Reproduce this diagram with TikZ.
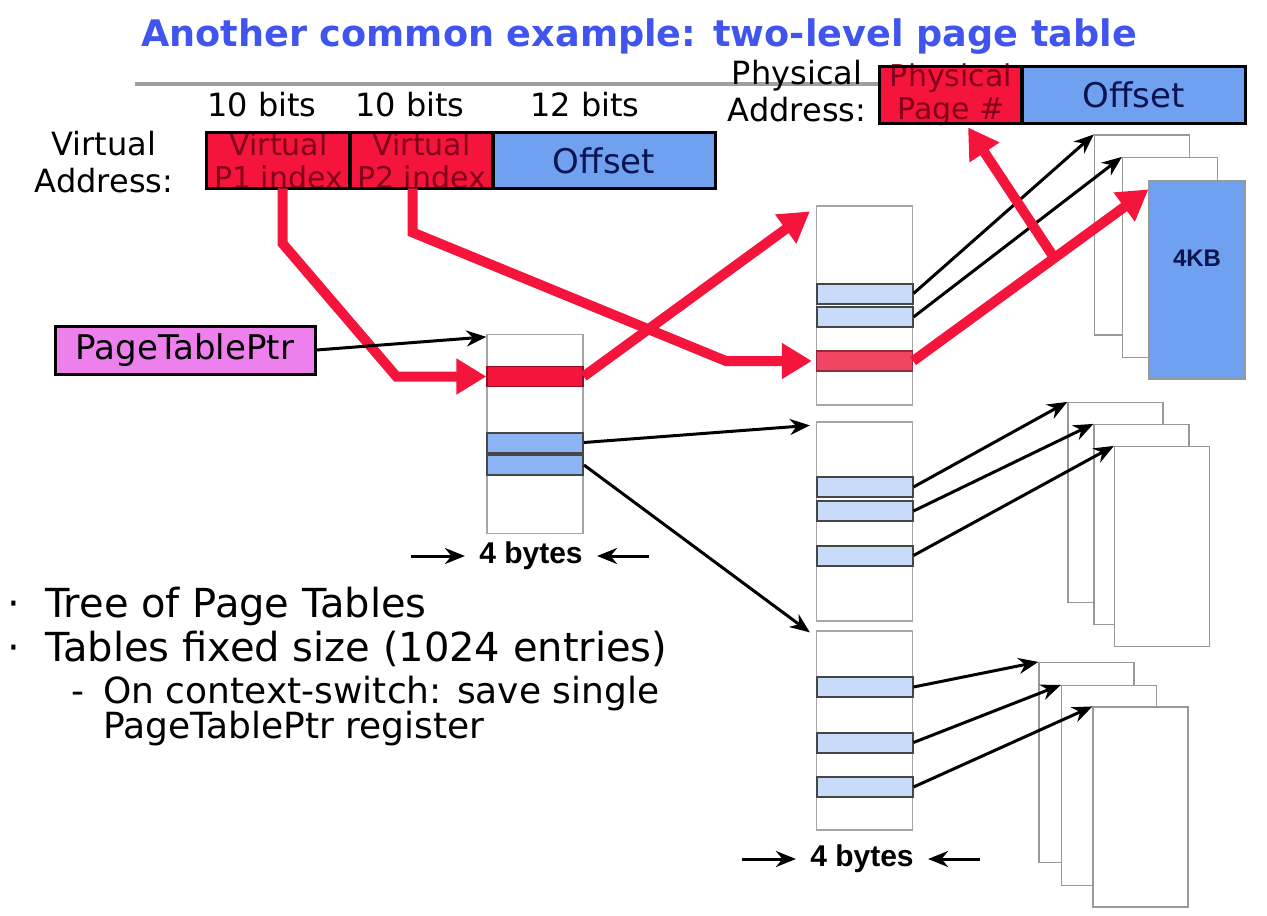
\documentclass[tikz,border=0pt]{standalone}
\usepackage{fontspec}
\setmainfont{DejaVu Sans}
\newfontfamily\arialfont{Liberation Sans}
\usetikzlibrary{arrows.meta,calc}

\definecolor{titleblue}{RGB}{64,84,238}
\definecolor{pgred}{RGB}{245,20,60}
\definecolor{darkred}{RGB}{130,0,25}
\definecolor{addrblue}{RGB}{112,160,240}
\definecolor{navy}{RGB}{10,20,80}
\definecolor{ptrpink}{RGB}{238,128,238}
\definecolor{entblue}{RGB}{200,220,250}
\definecolor{entblueb}{RGB}{140,180,245}
\definecolor{entred}{RGB}{240,70,100}

\tikzset{
  fld/.style={inner sep=0pt, minimum height=27.5pt},
  fldline/.style={draw=black, line width=1.5pt},
  rtxt/.style={text=darkred, align=center, inner sep=0pt, font=\fontsize{15}{16.5}\selectfont},
  otxt/.style={text=navy, inner sep=0pt, font=\fontsize{17}{20}\selectfont},
  lbl/.style={inner sep=0pt, font=\fontsize{16}{18}\selectfont},
  tbl/.style={draw=gray!70, line width=0.6pt, fill=white, minimum width=48pt, minimum height=99.5pt, inner sep=0pt},
  ent/.style={draw=gray!55!black, line width=1pt, fill=entblue, minimum width=48pt, minimum height=10pt, inner sep=0pt},
  frm/.style={draw=gray!80, line width=0.6pt, fill=white, minimum width=47.5pt, minimum height=100pt, inner sep=0pt},
  redarr/.style={draw=pgred, line width=5pt, -{Triangle[length=15pt,width=17pt]}},
  blkarr/.style={draw=black, line width=1.5pt, -{Stealth[length=10pt,width=8pt]}},
  bytes/.style={font=\arialfont\bfseries\fontsize{15}{18}\selectfont, inner sep=0pt},
  bul/.style={inner sep=0pt, font=\fontsize{20}{24}\selectfont},
  subbul/.style={inner sep=0pt, font=\fontsize{18}{22}\selectfont}
}

\begin{document}
\begin{tikzpicture}[x=0.5pt,y=-0.5pt]
\useasboundingbox (0,0) rectangle (1267,915);

\node[anchor=base, inner sep=0pt, text=titleblue, font=\bfseries\fontsize{18.3}{22}\selectfont] (title) at (639,47) {Another common example: two-level page table};
\draw[gray!75, line width=2pt] (135,84) -- (880,84);

% address fields
\node[fld, fill=pgred, minimum width=71.5pt] (p1) at (278.5,160.5) {};
\node[fld, fill=pgred, minimum width=71.5pt] (p2) at (421.5,160.5) {};
\node[fld, fill=addrblue, minimum width=111pt] (voff) at (604,160.5) {};
\node[fld, fill=pgred, minimum width=71pt, minimum height=28pt] (ppn) at (951,95) {};
\node[fld, fill=addrblue, minimum width=111.5pt, minimum height=28pt] (poff) at (1133.5,95) {};
\node[rtxt] (p1t) at (p1) {Virtual\\P1 index};
\node[rtxt] (p2t) at (p2) {Virtual\\P2 index};
\node[otxt] (vofft) at (voff) {Offset};
\node[rtxt] (ppnt) at (ppn) {Physical\\Page \#};
\node[otxt] (pofft) at (poff) {Offset};
\foreach \n in {p1,p2,voff,ppn,poff}
  \draw[fldline] (\n.north west) rectangle (\n.south east);

\node[lbl, anchor=base] (w1) at (262,117) {10 bits};
\node[lbl, anchor=base] (w2) at (410,117) {10 bits};
\node[lbl, anchor=base] (w3) at (585,117) {12 bits};
\node[lbl, align=center, font=\fontsize{16}{18.5}\selectfont] (vlab) at (104,162) {Virtual\\Address:};
\node[lbl, align=center, font=\fontsize{16}{18.5}\selectfont] (plab) at (797,91) {Physical\\Address:};

\node[draw=black, line width=1.5pt, fill=ptrpink, minimum width=130pt, minimum height=24pt, inner sep=0pt, font=\fontsize{17}{20}\selectfont] (ptp) at (185,350) {PageTablePtr};

% tables
\node[tbl] (t1) at (535,434) {};
\node[ent, fill=pgred, draw=pgred!60!black, line width=0.6pt] (t1r) at (535,376.5) {};
\node[ent, fill=entblueb] (t1b1) at (535,442.5) {};
\node[ent, fill=entblueb] (t1b2) at (535,465) {};

\node[tbl] (t2a) at (864.5,305.5) {};
\node[ent] (a1) at (864.5,293.5) {};
\node[ent] (a2) at (864.5,317) {};
\node[ent, fill=entred, draw=entred!60!black, line width=0.6pt] (ar) at (864.5,361) {};

\node[tbl] (t2b) at (864.5,521.5) {};
\node[ent] (b1) at (864.5,487) {};
\node[ent] (b2) at (864.5,511) {};
\node[ent] (b3) at (864.5,555.5) {};

\node[tbl] (t2c) at (864.5,730.5) {};
\node[ent] (c1) at (864.5,687) {};
\node[ent] (c2) at (864.5,742.5) {};
\node[ent] (c3) at (864.5,787) {};

% pages
\node[frm] (f11) at (1142,235) {};
\node[frm] (f12) at (1170,257.5) {};
\node[frm, fill=addrblue, minimum width=48pt, minimum height=99pt] (f13) at (1197,280) {};
\node[bytes, text=navy, font=\arialfont\bfseries\fontsize{12}{14}\selectfont] (kb) at (1197,258) {4KB};
\node[frm] (f21) at (1115.5,502.5) {};
\node[frm] (f22) at (1141.5,524.5) {};
\node[frm] (f23) at (1162,546.5) {};
\node[frm] (f31) at (1086.5,762.5) {};
\node[frm] (f32) at (1109,785.5) {};
\node[frm] (f33) at (1140.5,807) {};

\node[bytes] (by1) at (531,556) {4 bytes};
\draw[blkarr] ([xshift=-34pt]by1.west) -- ([xshift=-7pt]by1.west);
\draw[blkarr] ([xshift=33pt]by1.east) -- ([xshift=7pt]by1.east);
\node[bytes] (by2) at (862,859) {4 bytes};
\draw[blkarr] ([xshift=-34pt]by2.west) -- ([xshift=-7pt]by2.west);
\draw[blkarr] ([xshift=33pt]by2.east) -- ([xshift=7pt]by2.east);

% pointers
\draw[blkarr] (t1b1.east) -- ([shift={(-6,4)}]t2b.north west);
\draw[blkarr] (t1b2.east) -- ([shift={(-6,2)}]t2c.north west);
\draw[blkarr] (a1.east) -- (f11.north west);
\draw[blkarr] (a2.east) -- (f12.north west);
\draw[blkarr] (b1.east) -- (f21.north west);
\draw[blkarr] (b2.east) -- (f22.north west);
\draw[blkarr] (b3.east) -- (f23.north west);
\draw[blkarr] (c1.east) -- (f31.north west);
\draw[blkarr] (c2.east) -- (f32.north west);
\draw[blkarr] (c3.east) -- (f33.north west);

% translation path
\draw[redarr] ([xshift=2pt]p1.south) -- ++(0,55) -- ($(t1r.west)+(-90,0)$) -- (t1r.west);
\draw[redarr] ([xshift=-4.5pt]p2.south) -- ++(0,44) -- ($(ar.west)+(-90,0)$) -- ([xshift=-2pt]ar.west);
\draw[redarr] (t1r.east) -- ([shift={(-6,6)}]t2a.north west);
\draw[redarr] (ar.east) -- ([yshift=-4.5pt]f13.north west);
\draw[redarr] ($(ar.east)!0.6!([yshift=-4.5pt]f13.north west)$) -- ([xshift=8.5pt,yshift=-2pt]ppn.south);
\draw[blkarr] (ptp.east) -- ([yshift=-1.5pt]t1.north west);

% bullets
\node[bul, anchor=base] (d1) at (14,617) {·};
\node[bul, anchor=base west] (l1) at (45,617) {Tree of Page Tables};
\node[bul, anchor=base] (d2) at (14,661) {·};
\node[bul, anchor=base west] (l2) at (45,661) {Tables fixed size (1024 entries)};
\node[subbul, anchor=base] (d3) at (78,703) {-};
\node[subbul, anchor=base west] (l3) at (103,703) {On context-switch: save single};
\node[subbul, anchor=base west] (l4) at (103,738) {PageTablePtr register};
\end{tikzpicture}
\end{document}
